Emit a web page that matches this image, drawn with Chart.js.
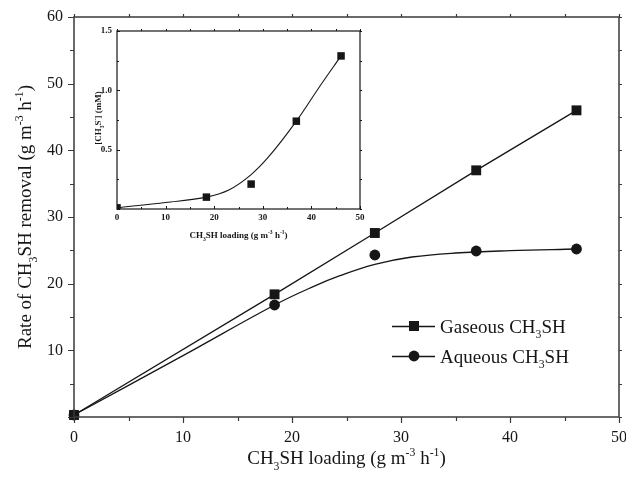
<!DOCTYPE html>
<html>
<head>
<meta charset="utf-8">
<script src="https://cdn.jsdelivr.net/npm/chart.js@4"></script>
<style>
  html, body { margin: 0; padding: 0; background: #fff; }
  #wrap { position: relative; width: 626px; height: 477px; overflow: hidden; }
  #main { position: absolute; left: 0; top: 0; }
  #inset { position: absolute; left: 85px; top: 22px; }
</style>
</head>
<body>
<div id="wrap">
  <canvas id="main" width="626" height="477"></canvas>
  <canvas id="inset" width="285" height="225"></canvas>
</div>
<script>
// ---- data ----
const loading = [0, 18.4, 27.6, 36.9, 46.1];
const gaseousRemoval = [0.3, 18.4, 27.6, 37.0, 46.0];
const aqueousRemoval = [0.3, 16.8, 24.3, 24.9, 25.2];

// fitted curve through the aqueous points (traced)
const aqFitLoading = [0, 10, 18.4, 22, 24.4, 27.6, 31, 35, 40, 46.1];
const aqFitRemoval = [0.3, 9.2, 16.8, 19.6, 21.2, 22.9, 24.0, 24.6, 24.95, 25.2];

// inset: sulfide concentration
const sulfide = [0.01, 0.10, 0.21, 0.74, 1.29];
const sulFitLoading = [0, 10, 18.4, 23, 27.6, 31, 36.9, 41.5, 46.1];
const sulFitValue = [0.01, 0.055, 0.10, 0.16, 0.29, 0.43, 0.74, 1.02, 1.29];

const SERIF = '"Liberation Serif", "Times New Roman", serif';
const INK = '#161616';

function pts(xs, ys) { return xs.map((x, i) => ({ x, y: ys[i] })); }

// text with sub/superscripts: parts = [[text, mode]], mode '' | 'sub' | 'sup'
function drawRich(ctx, parts, x, y, size, weight, align) {
  const font = s => `${weight} ${s}px ${SERIF}`;
  let w = 0;
  parts.forEach(([t, m]) => { ctx.font = font(m ? size * 0.62 : size); w += ctx.measureText(t).width; });
  let cx = align === 'center' ? x - w / 2 : x;
  ctx.textAlign = 'left';
  ctx.textBaseline = 'alphabetic';
  parts.forEach(([t, m]) => {
    ctx.font = font(m ? size * 0.62 : size);
    const dy = m === 'sub' ? size * 0.3 : (m === 'sup' ? -size * 0.42 : 0);
    ctx.fillText(t, cx, y + dy);
    cx += ctx.measureText(t).width;
  });
}

// frame + tick marks on all four sides
function framePlugin(id, o) {
  return {
    id,
    afterDatasetsDraw(chart) {
      const { ctx, chartArea: a, scales: { x, y } } = chart;
      ctx.save();
      ctx.strokeStyle = o.color;
      ctx.lineWidth = o.frameWidth;
      ctx.strokeRect(a.left, a.top, a.right - a.left, a.bottom - a.top);
      ctx.lineWidth = o.tickWidth;
      const d = o.inward ? -1 : 1;
      ctx.beginPath();
      x.ticks.forEach(t => {
        const p = Math.round(x.getPixelForValue(t.value)) + 0.5;
        const major = Math.abs(t.value / o.xMajor - Math.round(t.value / o.xMajor)) < 1e-6;
        const l = major ? o.major : o.minor;
        ctx.moveTo(p, a.bottom); ctx.lineTo(p, a.bottom + d * l);
        ctx.moveTo(p, a.top); ctx.lineTo(p, a.top - d * o.mirror);
      });
      y.ticks.forEach(t => {
        const p = Math.round(y.getPixelForValue(t.value)) + 0.5;
        const major = Math.abs(t.value / o.yMajor - Math.round(t.value / o.yMajor)) < 1e-6;
        const l = major ? o.major : o.minor;
        ctx.moveTo(a.left, p); ctx.lineTo(a.left - d * l, p);
        ctx.moveTo(a.right, p); ctx.lineTo(a.right + d * o.mirror, p);
      });
      ctx.stroke();
      ctx.restore();
    }
  };
}

const mainText = {
  id: 'mainText',
  afterDraw(chart) {
    const ctx = chart.ctx;
    const a = chart.chartArea;
    ctx.save();
    ctx.fillStyle = INK;
    // x title
    drawRich(ctx, [['CH', ''], ['3', 'sub'], ['SH loading (g m', ''], ['-3', 'sup'], [' h', ''], ['-1', 'sup'], [')', '']],
      (a.left + a.right) / 2, 464, 19, 'normal', 'center');
    // y title
    ctx.save();
    ctx.translate(25, (a.top + a.bottom) / 2);
    ctx.rotate(-Math.PI / 2);
    drawRich(ctx, [['Rate of CH', ''], ['3', 'sub'], ['SH removal (g m', ''], ['-3', 'sup'], [' h', ''], ['-1', 'sup'], [')', '']],
      0, 6, 19, 'normal', 'center');
    ctx.restore();

    // legend
    const rows = [
      { y: 326, style: 'rect', label: 'Gaseous CH' },
      { y: 356, style: 'circle', label: 'Aqueous CH' }
    ];
    rows.forEach(r => {
      ctx.strokeStyle = INK;
      ctx.lineWidth = 1.3;
      ctx.beginPath(); ctx.moveTo(392, r.y + 0.5); ctx.lineTo(435, r.y + 0.5); ctx.stroke();
      ctx.fillStyle = INK;
      if (r.style === 'rect') {
        ctx.fillRect(409, r.y - 5, 10, 10);
      } else {
        ctx.beginPath(); ctx.arc(414, r.y, 5.4, 0, Math.PI * 2); ctx.fill();
      }
      drawRich(ctx, [[r.label, ''], ['3', 'sub'], ['SH', '']], 440, r.y + 6.5, 19, 'normal', 'left');
    });
    ctx.restore();
  }
};

const insetText = {
  id: 'insetText',
  afterDraw(chart) {
    const ctx = chart.ctx;
    const a = chart.chartArea;
    ctx.save();
    ctx.fillStyle = INK;
    drawRich(ctx, [['CH', ''], ['3', 'sub'], ['SH loading (g m', ''], ['-3', 'sup'], [' h', ''], ['-1', 'sup'], [')', '']],
      (a.left + a.right) / 2, 216, 9, 'bold', 'center');
    ctx.save();
    ctx.translate(13, 96);
    ctx.rotate(-Math.PI / 2);
    drawRich(ctx, [['[CH', ''], ['3', 'sub'], ['S', ''], ['-', 'sup'], ['] (mM)', '']], 0, 3, 9, 'bold', 'center');
    ctx.restore();
    ctx.restore();
  }
};

// keep the plot box where the figure has it: no extra room for edge labels
function fixX(h) { return s => { s.height = h; s.paddingLeft = 0; s.paddingRight = 0; }; }
function fixY(w) { return s => { s.width = w; s.paddingTop = 0; s.paddingBottom = 0; }; }

new Chart(document.getElementById('main'), {
  type: 'scatter',
  data: {
    datasets: [
      {
        label: 'Gaseous CH3SH',
        data: pts(loading, gaseousRemoval),
        showLine: true,
        borderColor: INK, backgroundColor: INK, borderWidth: 1.3,
        pointStyle: 'rect', pointRadius: 7, pointBorderWidth: 0,
        tension: 0, clip: false
      },
      {
        label: 'Aqueous fit',
        data: pts(aqFitLoading, aqFitRemoval),
        showLine: true,
        borderColor: INK, borderWidth: 1.3,
        pointRadius: 0, tension: 0.4
      },
      {
        label: 'Aqueous CH3SH',
        data: pts(loading, aqueousRemoval),
        showLine: false,
        backgroundColor: INK, borderColor: INK,
        pointStyle: 'circle', pointRadius: 5.4, pointBorderWidth: 0, clip: false
      }
    ]
  },
  options: {
    responsive: false,
    animation: false,
    devicePixelRatio: 1,
    layout: { padding: { top: 17, right: 7, left: 0, bottom: 0 } },
    plugins: { legend: { display: false }, tooltip: { enabled: false } },
    scales: {
      x: {
        type: 'linear', min: 0, max: 50,
        grid: { display: false, drawTicks: false },
        border: { display: false },
        ticks: {
          stepSize: 5, autoSkip: false, maxRotation: 0, padding: 11,
          color: INK, font: { family: SERIF, size: 16 },
          callback: v => (v % 10 === 0 ? v : '')
        },
        afterFit: fixX(60)
      },
      y: {
        type: 'linear', min: 0, max: 60,
        grid: { display: false, drawTicks: false },
        border: { display: false },
        ticks: {
          stepSize: 5, autoSkip: false, padding: 11,
          color: INK, font: { family: SERIF, size: 16 },
          callback: v => (v % 10 === 0 && v !== 0 ? v : '')
        },
        afterFit: fixY(74)
      }
    }
  },
  plugins: [
    framePlugin('mainFrame', { color: '#3a3a3a', frameWidth: 1.5, tickWidth: 1.2, inward: false, major: 6, minor: 4, mirror: 3, xMajor: 10, yMajor: 10 }),
    mainText
  ]
});

new Chart(document.getElementById('inset'), {
  type: 'scatter',
  data: {
    datasets: [
      {
        label: 'fit',
        data: pts(sulFitLoading, sulFitValue),
        showLine: true,
        borderColor: INK, borderWidth: 1.1,
        pointRadius: 0, cubicInterpolationMode: 'monotone'
      },
      {
        label: '[CH3S-]',
        data: pts(loading, sulfide),
        showLine: false,
        backgroundColor: INK, borderColor: INK,
        pointStyle: 'rect', pointRadius: 5.3, pointBorderWidth: 0
      }
    ]
  },
  options: {
    responsive: false,
    animation: false,
    devicePixelRatio: 1,
    layout: { padding: { top: 9, right: 10, left: 0, bottom: 0 } },
    plugins: { legend: { display: false }, tooltip: { enabled: false } },
    scales: {
      x: {
        type: 'linear', min: 0, max: 50,
        grid: { display: false, drawTicks: false },
        border: { display: false },
        ticks: {
          stepSize: 5, autoSkip: false, maxRotation: 0, padding: 3,
          color: INK, font: { family: SERIF, size: 9, weight: 'bold' },
          callback: v => (v % 10 === 0 ? v : '')
        },
        afterFit: fixX(38)
      },
      y: {
        type: 'linear', min: 0, max: 1.5,
        grid: { display: false, drawTicks: false },
        border: { display: false },
        ticks: {
          stepSize: 0.25, autoSkip: false, padding: 5,
          color: INK, font: { family: SERIF, size: 9, weight: 'bold' },
          callback: v => (v > 0 && Math.abs(v * 2 - Math.round(v * 2)) < 1e-6 ? v.toFixed(1) : '')
        },
        afterFit: fixY(32)
      }
    }
  },
  plugins: [
    framePlugin('insetFrame', { color: INK, frameWidth: 1.2, tickWidth: 1, inward: true, major: 3, minor: 2, mirror: -2, xMajor: 10, yMajor: 0.5 }),
    insetText
  ]
});
</script>
</body>
</html>
